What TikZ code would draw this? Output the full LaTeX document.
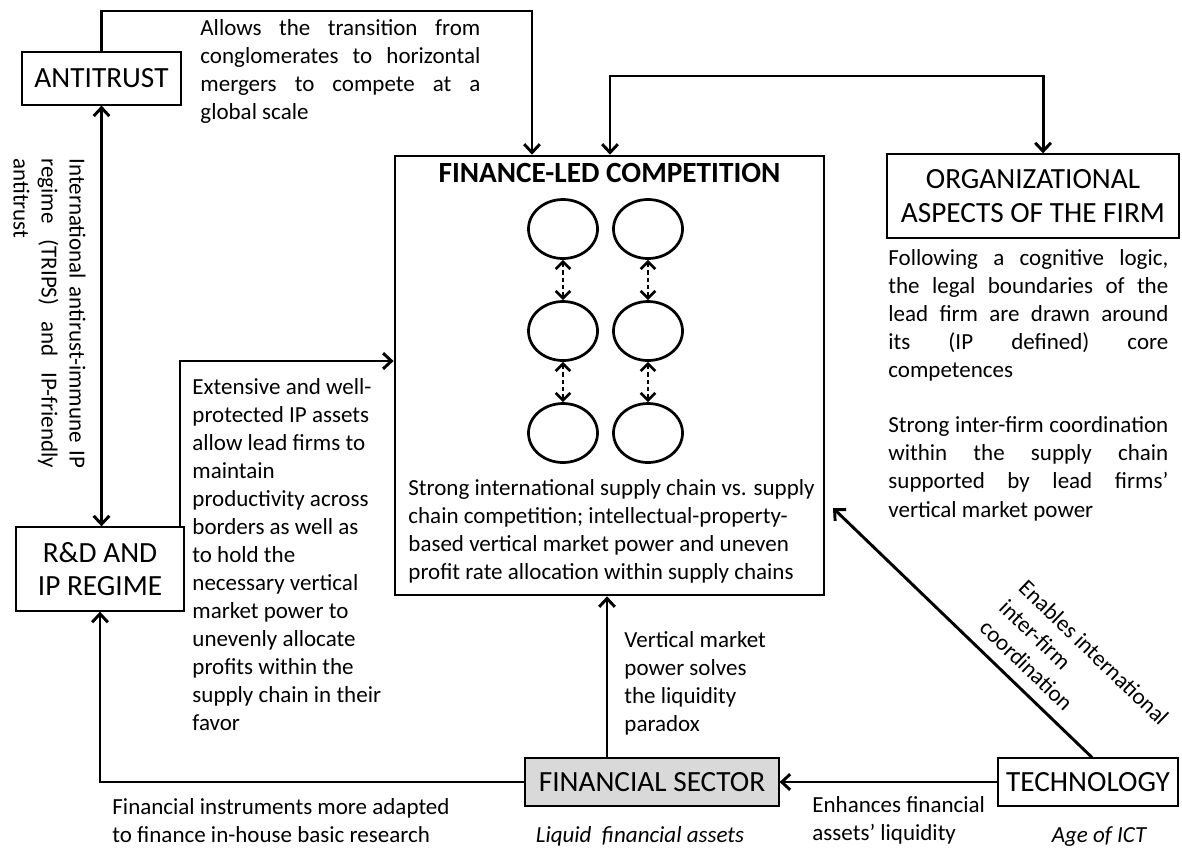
\documentclass[tikz,border=0pt]{standalone}
\usepackage{fontspec}
\setmainfont{Carlito}
\usetikzlibrary{arrows.meta,shapes.geometric}

\definecolor{sectorgray}{HTML}{D9D9D9}

% text sizes
\newcommand{\txt}{\fontsize{11pt}{13.4pt}\selectfont}
\newcommand{\lbl}{\fontsize{14pt}{16pt}\selectfont}
% one justified line of a fixed-width column
\newcommand{\jl}[2][133.8pt]{\makebox[#1][s]{#2}}

\tikzset{
  >={Straight Barb[length=4pt,width=7.5pt]},
  conn/.style={line width=1.4pt},
  thinbox/.style={draw, line width=0.6pt, inner sep=0pt, font=\lbl, align=center},
  bigbox/.style={draw, line width=1.3pt, inner sep=0pt},
  firm/.style={draw, ellipse, line width=1.3pt, inner sep=0pt,
               minimum width=33pt, minimum height=28.2pt},
  link/.style={line width=1.3pt, dash pattern=on 2pt off 1.5pt, <->,
               >={Straight Barb[length=3.5pt,width=7pt]}},
  % multi-line notes are placed by the top of a strut on their first line
  note/.style={font=\txt, align=left, inner sep=0pt, anchor=north west,
               execute at begin node=\strut},
  caption/.style={font=\txt\itshape, inner sep=0pt, anchor=base}
}

\begin{document}
\begin{tikzpicture}[x=0.478pt, y=-0.478pt]
  \useasboundingbox (0,0) rectangle (1182,848);

  % ---- boxes ----
  \node[thinbox, minimum width=76pt, minimum height=25.3pt] (anti) at (101.5,78.5) {ANTITRUST};
  \node[thinbox, minimum width=80.3pt, minimum height=40.2pt] (rd) at (100,569) {R\&D AND\\IP REGIME};
  \node[thinbox, minimum width=139.6pt, minimum height=40.2pt] (org) at (1033,196) {ORGANIZATIONAL\\ASPECTS OF THE FIRM};
  \node[thinbox, fill=sectorgray, minimum width=121.4pt, minimum height=22.9pt] (fs) at (652,782) {FINANCIAL SECTOR};
  \node[thinbox, minimum width=86pt, minimum height=22.9pt] (tech) at (1088,782) {TECHNOLOGY};
  \node[bigbox, minimum width=205.1pt, minimum height=209.8pt] (fin) at (609.5,375.5) {};

  \node[font=\lbl\bfseries, inner sep=0pt, anchor=base] (title) at (609.5,182) {FINANCE-LED COMPETITION};

  % ---- two supply chains ----
  \foreach \c/\x in {a/563, b/648}{
    \node[firm] (\c1) at (\x,229) {};
    \node[firm] (\c2) at (\x,331) {};
    \node[firm] (\c3) at (\x,433) {};
    \draw[link] (\c1) -- (\c2);
    \draw[link] (\c2) -- (\c3);
  }

  \node[note] (fintext) at (408,479) {Strong international supply chain vs. supply\\
    chain competition; intellectual-property-\\
    based vertical market power and uneven\\
    profit rate allocation within supply chains};

  % ---- connectors ----
  \coordinate (tA) at (532,11);
  \coordinate (tO) at (610,76);
  \coordinate (tR) at (180,361);
  \coordinate (tF) at (607,0);
  \coordinate (tE) at (833,508);

  \draw[conn,->] (anti.north) |- (tA) -- (tA |- fin.north);
  \draw[conn,<->] ([xshift=4.8pt]org.north) |- (tO) -- (tO |- fin.north);
  \draw[conn,<->] (anti.south) -- (anti.south |- rd.north);
  \draw[conn,->] (tR |- rd.north) -- (tR) -- (tR -| fin.west);
  \draw[conn,->] (fs.west) -| (rd.south);
  \draw[conn,->] (tF |- fs.north) -- (tF |- fin.south);
  \draw[conn,->] (tech.west) -- (fs.east);
  \draw[conn,->] ([xshift=1.9pt]tech.north) -- (tE);

  % ---- annotations ----
  \node[note] (allows) at (200,19) {\jl{Allows the transition from}\\
    \jl{conglomerates to horizontal}\\
    \jl{mergers to compete at a}\\
    global scale};

  \node[note, rotate=-90] (regime) at (86,158) {\jl[148pt]{International antirust-immune IP}\\
    \jl[148pt]{regime (TRIPS) and IP-friendly}\\
    antitrust};

  \node[note] (orgtext) at (888,249) {\jl{Following a cognitive logic,}\\
    \jl{the legal boundaries of the}\\
    \jl{lead firm are drawn around}\\
    \jl{its (IP defined) core}\\
    competences};

  \node[note] (coord) at (888,416.5) {\jl{Strong inter-firm coordination}\\
    \jl{within the supply chain}\\
    \jl{supported by lead firms’}\\
    vertical market power};

  \node[note] (ipassets) at (192,378) {Extensive and well-\\
    protected IP assets\\
    allow lead firms to\\
    maintain\\
    productivity across\\
    borders as well as\\
    to hold the\\
    necessary vertical\\
    market power to\\
    unevenly allocate\\
    profits within the\\
    supply chain in their\\
    favor};

  \node[note] (paradox) at (624,631) {Vertical market\\power solves\\the liquidity\\paradox};

  \node[note] (instruments) at (112,798.5) {Financial instruments more adapted\\
    to finance in-house basic research};

  \node[caption] (liquid) at (640,842) {Liquid~ financial assets};

  \node[note] (enhances) at (812,796.5) {Enhances financial\\assets’ liquidity};

  \node[caption] (ict) at (1099,842) {Age of ICT};

  \node[note, rotate=-44] (enables) at (1028.4,577.2) {Enables international\\inter-firm\\coordination};
\end{tikzpicture}
\end{document}
